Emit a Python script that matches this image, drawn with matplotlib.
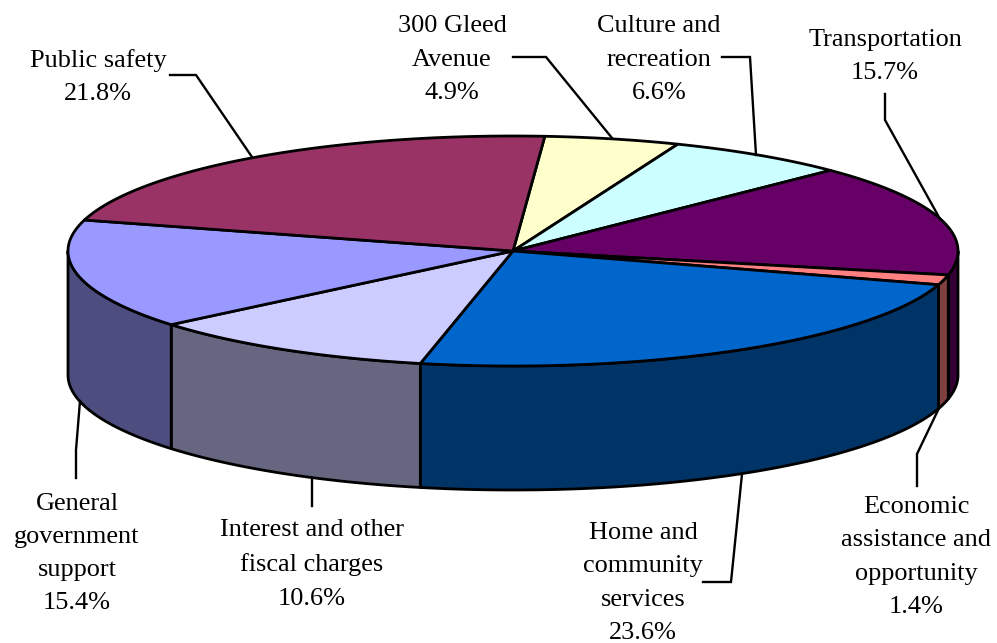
import numpy as np
import matplotlib
matplotlib.use('Agg')
import matplotlib.pyplot as plt
from matplotlib.patches import Polygon

plt.rcParams['font.family'] = 'Liberation Serif'

# clockwise from the top of the pie
labels = ['300 Gleed\nAvenue', 'Culture and\nrecreation', 'Transportation',
          'Economic\nassistance and\nopportunity', 'Home and\ncommunity\nservices',
          'Interest and other\nfiscal charges', 'General\ngovernment\nsupport',
          'Public safety']
values = [4.9, 6.6, 15.7, 1.4, 23.6, 10.6, 15.4, 21.8]
top_colors = ['#FFFFCC', '#CCFFFF', '#660066', '#FF8080',
              '#0066CC', '#CCCCFF', '#9999FF', '#993366']
side_colors = ['#808066', '#668080', '#330033', '#804040',
               '#003366', '#666680', '#4D4D80', '#4D1A33']

label_pos = [(452, 59.5), (659, 59.5), (885, 56.5), (916, 557),
             (643, 583), (312, 564.5), (77, 553.5), (98, 77)]
leaders = [[(513, 57), (546, 57), (612, 138)],
           [(722, 57), (750, 57), (756, 155)],
           [(885, 94), (885, 120), (940, 219)],
           [(917, 486), (917, 454), (940, 406)],
           [(703, 582), (731, 582), (742, 474)],
           [(312, 506), (312, 478)],
           [(76, 478), (76, 450), (80, 401)],
           [(170, 75), (196, 75), (252, 157)]]

cx, cy = 513, 251
rx, ry = 445, 115
depth = 124
start = 4.1


def rim(a0, a1):
    t = np.radians(np.linspace(a0, a1, 200))
    return cx + rx * np.sin(t), cy - ry * np.cos(t)


fig = plt.figure(figsize=(9.97, 6.43), dpi=100)
ax = fig.add_axes([0, 0, 1, 1])
ax.set_xlim(0, 997)
ax.set_ylim(643, 0)
ax.axis('off')

edges = start + np.cumsum([0] + values) * 3.6

# sides first, only the part on the front of the pie (90 to 270 degrees)
for i in range(len(values)):
    a0 = max(edges[i], 90)
    a1 = min(edges[i + 1], 270)
    if a1 <= a0:
        continue
    x, y = rim(a0, a1)
    xs = np.concatenate([x, x[::-1]])
    ys = np.concatenate([y, y[::-1] + depth])
    ax.add_patch(Polygon(np.column_stack([xs, ys]), closed=True, fc=side_colors[i],
                         ec='black', lw=2, joinstyle='round', zorder=2))

# tops
for i in range(len(values)):
    x, y = rim(edges[i], edges[i + 1])
    xs = np.concatenate([[cx], x])
    ys = np.concatenate([[cy], y])
    ax.add_patch(Polygon(np.column_stack([xs, ys]), closed=True, fc=top_colors[i],
                         ec='black', lw=2, joinstyle='round', zorder=3))

for pts in leaders:
    p = np.array(pts)
    ax.plot(p[:, 0], p[:, 1], color='black', lw=1.7, zorder=4, solid_joinstyle='miter')

for lab, val, pos in zip(labels, values, label_pos):
    ax.text(pos[0], pos[1], f'{lab}\n{val}%', ha='center', va='center', fontsize=18.9,
            linespacing=1.66, color='black', zorder=5)

fig.savefig('out.png', dpi=100)
